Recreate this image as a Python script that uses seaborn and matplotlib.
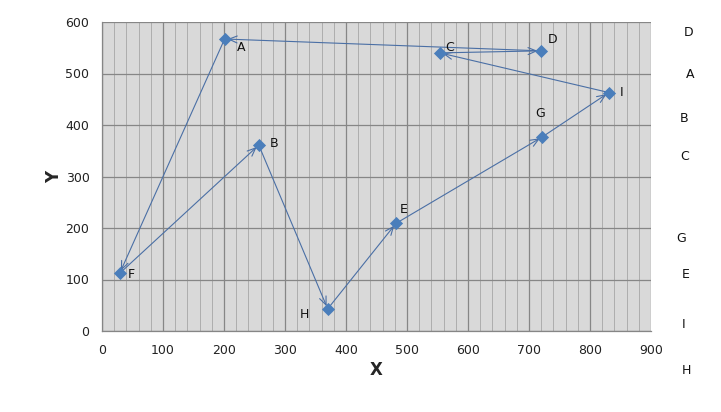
import matplotlib
matplotlib.use("Agg")
import matplotlib.pyplot as plt
import seaborn as sns
import pandas as pd
from matplotlib.ticker import MultipleLocator

# Data
names = ["A", "F", "B", "H", "E", "G", "I", "C", "D"]
xs = [201, 29, 257, 370, 482, 722, 831, 554, 719]
ys = [567, 112, 361, 43, 209, 377, 463, 540, 544]
# path order (closed loop)
path = ["A", "F", "B", "H", "E", "G", "I", "C", "D", "A"]
# side labels (figure text at right)
side_labels = ["D", "A", "B", "C", "G", "E", "I", "H"]
side_y = [33, 74, 118, 157, 239, 275, 325, 370]
side_x = [689, 690, 684, 685, 681, 686, 684, 686]

df = pd.DataFrame({"name": names, "x": xs, "y": ys})

sns.set_style("white", {"axes.facecolor": "#D9D9D9"})
plt.rcParams['font.family'] = ['DejaVu Sans']

fig = plt.figure(figsize=(7.21, 4.12), dpi=100)
ax = fig.add_axes([102/721, 1 - 331/412, (651-102)/721, (331-22)/412])
ax.set_facecolor("#D9D9D9")

ax.set_xlim(0, 900)
ax.set_ylim(0, 600)
ax.xaxis.set_major_locator(MultipleLocator(100))
ax.xaxis.set_minor_locator(MultipleLocator(20))
ax.yaxis.set_major_locator(MultipleLocator(100))
ax.grid(which="major", axis="both", color="#868686", linewidth=0.9)
ax.grid(which="minor", axis="x", color="#ADADAD", linewidth=0.7)
ax.set_axisbelow(True)

line_col = "#4A6FA5"
pos = dict(zip(names, zip(xs, ys)))
for a, b in zip(path[:-1], path[1:]):
    ax.annotate("", xy=pos[b], xytext=pos[a], xycoords="data",
                arrowprops=dict(arrowstyle="->,head_length=0.6,head_width=0.25",
                                color=line_col, lw=0.8, shrinkA=2, shrinkB=2))

sns.scatterplot(data=df, x="x", y="y", marker="D", s=45, color="#4A7EBB",
                edgecolor="#4A7EBB", linewidth=0, ax=ax, zorder=5)

offsets = {"A": (9, -6), "F": (6, -1), "B": (8, 1), "H": (-20, -4),
           "E": (3, 10), "G": (-5, 17), "I": (8, 0), "C": (4, 4), "D": (5, 8)}
for n, x, y in zip(names, xs, ys):
    dx, dy = offsets[n]
    ax.annotate(n, (x, y), xytext=(dx, dy), textcoords="offset points",
                fontsize=9, color="#111111", va="center", ha="left")

for lab, sx, sy in zip(side_labels, side_x, side_y):
    fig.text(sx/721, 1 - sy/412, lab, fontsize=9, color="#111111",
             ha="center", va="center")

for s in ["top", "right"]:
    ax.spines[s].set_visible(False)
for s in ["left", "bottom"]:
    ax.spines[s].set_color("#868686")
    ax.spines[s].set_linewidth(0.9)

ax.tick_params(which="major", direction="out", length=5, color="#868686",
               labelsize=9, labelcolor="#222222", pad=4)
ax.tick_params(which="minor", length=0)
ax.set_xlabel("X", fontsize=12, fontweight="bold", labelpad=3)
ax.set_ylabel("Y", fontsize=12, fontweight="bold", labelpad=2)

fig.savefig("out.png", dpi=100)
